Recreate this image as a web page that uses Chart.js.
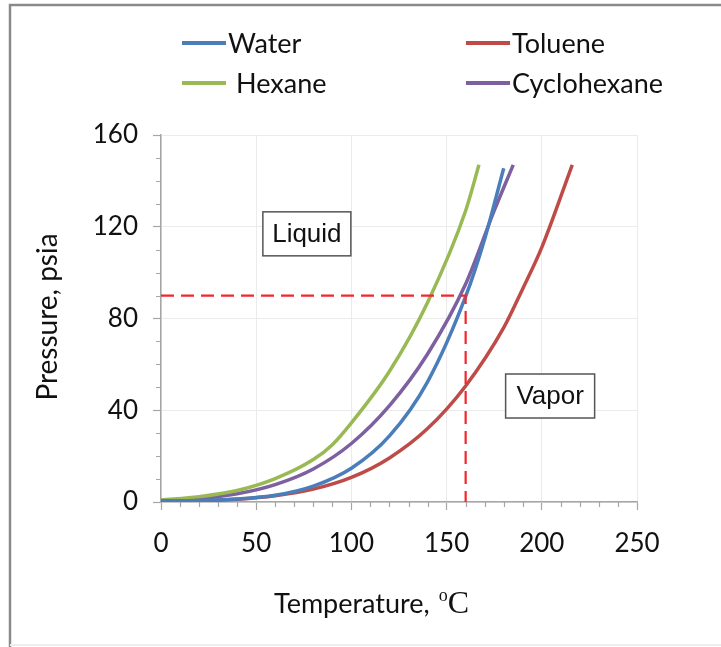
<!DOCTYPE html>
<html>
<head>
<meta charset="utf-8">
<script src="https://cdn.jsdelivr.net/npm/chart.js@4.4.1/dist/chart.umd.min.js"></script>
<style>
html,body{margin:0;padding:0;background:#fff;}
canvas{display:block;}
</style>
</head>
<body>
<canvas id="c" width="721" height="647"></canvas>
<script>
// ---- Data (Temperature °C, Pressure psia) ----
const waterT = [0, 20, 40, 60, 80, 100, 120, 140, 160, 170, 180];
const waterP = [0.5, 0.7, 1.3, 2.9, 6.9, 14.7, 28.8, 52.4, 89.6, 114.7, 145.5];

const tolueneT = [0, 20, 40, 60, 80, 100, 120, 140, 160, 180, 190, 200, 216];
const tolueneP = [0.5, 0.6, 1.2, 2.7, 5.6, 10.7, 19.2, 32.0, 50.6, 76.0, 93.0, 111.0, 147.0];

const hexaneT = [0, 20, 40, 60, 80, 90, 100, 120, 140, 160, 167];
const hexaneP = [0.9, 2.3, 5.0, 10.2, 18.5, 25.0, 34.5, 57.0, 87.0, 127.0, 147.0];

const cyclohexaneT = [0, 20, 40, 60, 80, 100, 120, 140, 160, 175, 185];
const cyclohexaneP = [0.6, 1.5, 3.6, 7.6, 14.4, 25.5, 42.0, 64.5, 95.0, 127.0, 147.0];

const guideT = [0, 160, 160];
const guideP = [90, 90, 0];

const seriesNames = ['Water', 'Toluene', 'Hexane', 'Cyclohexane'];
const seriesColors = ['#4a7ebb', '#be4b48', '#98b954', '#7d60a0'];

const xTicks = [0, 50, 100, 150, 200, 250];
const yTicks = [0, 40, 80, 120, 160];
const regionLabels = ['Liquid', 'Vapor'];

function pts(T, P){ return T.map((t,i)=>({x:t, y:P[i]})); }

const allT = [waterT, tolueneT, hexaneT, cyclohexaneT];
const allP = [waterP, tolueneP, hexaneP, cyclohexaneP];

const datasets = seriesNames.map((n,i)=>({
  label: n,
  data: pts(allT[i], allP[i]),
  borderColor: seriesColors[i],
  backgroundColor: seriesColors[i],
  borderWidth: 3.5,
  pointRadius: 0,
  showLine: true,
  cubicInterpolationMode: 'monotone',
  order: 2
}));
datasets.push({
  label: 'guide',
  data: pts(guideT, guideP),
  borderColor: '#f3262b',
  borderWidth: 2.2,
  borderDash: [13, 7],
  pointRadius: 0,
  showLine: true,
  tension: 0,
  order: 0
});

const FONT = 'Lato, "Open Sans", sans-serif';
const SERIF = '"Liberation Serif", "Times New Roman", serif';

const decor = {
  id: 'decor',
  beforeDraw(chart){
    const ctx = chart.ctx;
    ctx.save();
    ctx.fillStyle = '#fff';
    ctx.fillRect(0,0,chart.width,chart.height);
    ctx.restore();
  },
  afterDraw(chart){
    const ctx = chart.ctx;
    const xs = chart.scales.x, ys = chart.scales.y;
    const area = chart.chartArea;
    ctx.save();
    // outer frame
    ctx.strokeStyle = '#8a8a8a';
    ctx.lineWidth = 2.5;
    ctx.beginPath();
    ctx.moveTo(10, 647); ctx.lineTo(10, 5); ctx.lineTo(721, 5);
    ctx.stroke();
    ctx.strokeStyle = '#eeeeee';
    ctx.lineWidth = 2;
    ctx.beginPath(); ctx.moveTo(10, 645); ctx.lineTo(721, 645); ctx.stroke();

    // minor ticks
    ctx.strokeStyle = '#a6a6a6';
    ctx.lineWidth = 1.2;
    ctx.beginPath();
    for (let v = 10; v < 250; v += 10){
      if (v % 50 === 0) continue;
      const px = Math.round(xs.getPixelForValue(v)) + 0.5;
      ctx.moveTo(px, area.bottom); ctx.lineTo(px, area.bottom + 5);
    }
    for (let v = 10; v < 160; v += 10){
      if (v % 40 === 0) continue;
      const py = Math.round(ys.getPixelForValue(v)) + 0.5;
      ctx.moveTo(area.left - 5, py); ctx.lineTo(area.left, py);
    }
    ctx.stroke();

    // legend (2 x 2)
    const legendPos = [
      {lx:182, tx:228, y:43},
      {lx:466, tx:512, y:43},
      {lx:182, tx:236, y:83},
      {lx:466, tx:512, y:83}
    ];
    ctx.font = '27px ' + FONT;
    ctx.textBaseline = 'middle';
    ctx.textAlign = 'left';
    seriesNames.forEach((n,i)=>{
      const p = legendPos[i];
      ctx.strokeStyle = seriesColors[i];
      ctx.lineWidth = 4;
      ctx.beginPath(); ctx.moveTo(p.lx, p.y); ctx.lineTo(p.lx + 44, p.y); ctx.stroke();
      ctx.fillStyle = '#111';
      ctx.fillText(n, p.tx, p.y + 1);
    });

    // region label boxes
    const boxes = [
      {t:53.5, p:126.5, w:88, h:44, text: regionLabels[0]},
      {t:181, p:55.8, w:89, h:44, text: regionLabels[1]}
    ];
    ctx.font = '26px "Liberation Sans", Arial, sans-serif';
    ctx.textAlign = 'center';
    boxes.forEach(b=>{
      const x = xs.getPixelForValue(b.t), y = ys.getPixelForValue(b.p);
      ctx.fillStyle = '#fff';
      ctx.fillRect(x, y, b.w, b.h);
      ctx.strokeStyle = '#555';
      ctx.lineWidth = 1.5;
      ctx.strokeRect(x, y, b.w, b.h);
      ctx.fillStyle = '#111';
      ctx.fillText(b.text, x + b.w/2, y + b.h/2 + 1);
    });

    // y axis title
    ctx.save();
    ctx.translate(48, 317);
    ctx.rotate(-Math.PI/2);
    ctx.font = '28px ' + FONT;
    ctx.fillStyle = '#111';
    ctx.textAlign = 'center';
    ctx.textBaseline = 'middle';
    ctx.fillText('Pressure, psia', 0, 0);
    ctx.restore();

    // x axis title with superscript o and serif C
    ctx.textAlign = 'left';
    ctx.textBaseline = 'alphabetic';
    ctx.fillStyle = '#111';
    const base = 613;
    ctx.font = '27px ' + FONT;
    const s1 = 'Temperature, ';
    const w1 = ctx.measureText(s1).width;
    ctx.font = '18px ' + SERIF;
    const wo = ctx.measureText('o').width;
    const x0 = 274;
    ctx.font = '27px ' + FONT;
    ctx.fillText(s1, x0, base);
    ctx.font = '18px ' + SERIF;
    ctx.fillText('o', x0 + w1 + 2, base - 12);
    ctx.font = '32px ' + SERIF;
    ctx.fillText('C', x0 + w1 + 2 + wo, base);
    ctx.restore();
  }
};

new Chart(document.getElementById('c'), {
  type: 'scatter',
  data: { datasets },
  options: {
    responsive: false,
    animation: false,
    layout: { padding: { top: 135, right: 84, left: 0, bottom: 0 } },
    plugins: { legend: { display: false }, tooltip: { enabled: false } },
    scales: {
      x: {
        type: 'linear', min: 0, max: 250,
        afterBuildTicks(scale){ scale.ticks = xTicks.map(v=>({value:v})); },
        afterFit(scale){ scale.height = 145; },
        ticks: { font: { family: FONT, size: 26 }, color: '#111', padding: 18, maxRotation: 0 },
        grid: { color: '#ebebeb', lineWidth: 1, tickLength: 8, tickColor: '#a6a6a6', tickWidth: 1.2 },
        border: { color: '#a6a6a6', width: 1.5 }
      },
      y: {
        type: 'linear', min: 0, max: 160,
        afterBuildTicks(scale){ scale.ticks = yTicks.map(v=>({value:v})); },
        afterFit(scale){ scale.width = 161; },
        ticks: { font: { family: FONT, size: 26 }, color: '#111', padding: 15 },
        grid: { color: '#ebebeb', lineWidth: 1, tickLength: 8, tickColor: '#a6a6a6', tickWidth: 1.2 },
        border: { color: '#a6a6a6', width: 1.5 }
      }
    }
  },
  plugins: [decor]
});
</script>
</body>
</html>
